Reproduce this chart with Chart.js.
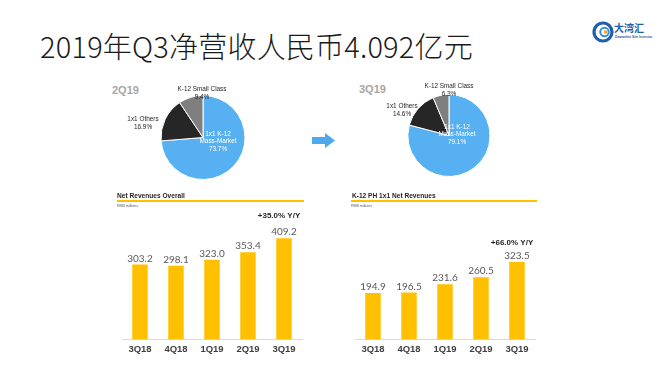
<!DOCTYPE html>
<html>
<head>
<meta charset="utf-8">
<script src="https://cdn.jsdelivr.net/npm/chart.js@4/dist/chart.umd.min.js"></script>
<style>
  html, body { margin: 0; padding: 0; background: #fff; }
  #slide { position: relative; width: 660px; height: 371px; overflow: hidden; background: #fff; font-family: "Liberation Sans", Arial, sans-serif; }
  .abs { position: absolute; }
  #title { left: 40px; top: 24px; font-family: "Noto Sans CJK SC", sans-serif; font-size: 29px; font-weight: 300; color: #1a1a1a; white-space: nowrap; letter-spacing: 0.2px; }
  .qlabel { font-size: 11px; font-weight: bold; color: #a6a6a6; }
  .hdr { font-size: 6.6px; font-weight: bold; color: #262626; white-space: nowrap; }
  .hline { height: 2px; background: #ffc000; }
  .unit { font-size: 3.6px; color: #595959; }
  .logo-txt { font-family: "Noto Sans CJK SC", sans-serif; font-weight: bold; font-size: 10px; color: #1f5fae; }
  .logo-sub { font-size: 3.4px; font-weight: bold; color: #1f5fae; white-space: nowrap; }
</style>
</head>
<body>
<div id="slide">
  <div id="title" class="abs">2019年Q3净营收人民币4.092亿元</div>

  <!-- logo -->
  <svg class="abs" style="left:592px;top:21px" width="22" height="22" viewBox="0 0 22 22">
    <circle cx="11" cy="11" r="9" fill="none" stroke="#1f5fae" stroke-width="3.2" />
    <circle cx="12.5" cy="11" r="4.2" fill="none" stroke="#3a8fd8" stroke-width="2" />
    <circle cx="13.5" cy="11" r="1.8" fill="#f5a623" />
  </svg>
  <div class="abs logo-txt" style="left:614px;top:20px">大湾汇</div>
  <div class="abs logo-sub" style="left:615px;top:35px">Dawanhui Site Investor</div>

  <!-- pies -->
  <div class="abs qlabel" style="left:112px;top:84px">2Q19</div>
  <div class="abs qlabel" style="left:359px;top:83px">3Q19</div>
  <canvas id="pie2" class="abs" style="left:113px;top:80px" width="180" height="115"></canvas>
  <canvas id="pie3" class="abs" style="left:359px;top:78px" width="180" height="115"></canvas>

  <svg class="abs" style="left:311px;top:132px" width="26" height="18" viewBox="0 0 26 18">
    <polygon points="1,5 14,5 14,1 24,8.5 14,16 14,12 1,12" fill="#4ea8ee" />
  </svg>

  <!-- bar headers -->
  <div class="abs hdr" style="left:117px;top:192px">Net Revenues Overall</div>
  <div class="abs hline" style="left:117px;top:200px;width:187px"></div>
  <div class="abs unit" style="left:117px;top:204px">RMB millions</div>

  <div class="abs hdr" style="left:352px;top:192px">K-12 PH 1x1 Net Revenues</div>
  <div class="abs hline" style="left:351px;top:200px;width:186px"></div>
  <div class="abs unit" style="left:351px;top:204px">RMB millions</div>

  <canvas id="barOverall" class="abs" style="left:112px;top:205px" width="200" height="160"></canvas>
  <canvas id="barK12" class="abs" style="left:345px;top:205px" width="200" height="160"></canvas>
</div>

<script>
// ---- data ----
const quarters = ["3Q18", "4Q18", "1Q19", "2Q19", "3Q19"];
const overallRevenue = [303.2, 298.1, 323.0, 353.4, 409.2];
const k12Revenue = [194.9, 196.5, 231.6, 260.5, 323.5];
const overallYoY = "+35.0% Y/Y";
const k12YoY = "+66.0% Y/Y";

const mixLabels = [["1x1 K-12", "Mass-Market"], ["1x1 Others"], ["K-12 Small Class"]];
const mix2Q19 = [73.7, 16.9, 9.4];
const mix3Q19 = [79.1, 14.6, 6.3];
const mixColors = ["#56b0f1", "#262626", "#7f7f7f"];
const mixTextColors = ["#ffffff", "#262626", "#262626"];

// labels on the pie slices, offsets from the pie center
const pieLabelPlugin = {
  id: "pieLabels",
  afterDatasetsDraw(chart, args, opts) {
    const ctx = chart.ctx;
    const arc = chart.getDatasetMeta(0).data[0];
    const values = chart.data.datasets[0].data;
    ctx.save();
    ctx.font = "6.4px 'Liberation Sans', Arial, sans-serif";
    ctx.textAlign = "center";
    ctx.textBaseline = "middle";
    values.forEach((v, i) => {
      const lines = mixLabels[i].concat([v.toFixed(1) + "%"]);
      const off = opts.offsets[i];
      const lh = 7.6;
      const y0 = arc.y + off[1] - (lines.length - 1) * lh / 2;
      ctx.fillStyle = mixTextColors[i];
      lines.forEach((t, k) => ctx.fillText(t, arc.x + off[0], y0 + k * lh));
    });
    ctx.restore();
  }
};

function makePie(id, values, offsets, pad) {
  new Chart(document.getElementById(id), {
    type: "pie",
    data: {
      labels: mixLabels.map(l => l.join(" ")),
      datasets: [{
        data: values,
        backgroundColor: mixColors,
        borderColor: "#ffffff",
        borderWidth: 1
      }]
    },
    options: {
      responsive: false,
      animation: false,
      layout: { padding: { top: pad, bottom: pad } },
      plugins: {
        legend: { display: false },
        tooltip: { enabled: false },
        pieLabels: { offsets: offsets }
      }
    },
    plugins: [pieLabelPlugin]
  });
}

makePie("pie2", mix2Q19, [[15, 4], [-60, -14], [-1, -44]], 15);
makePie("pie3", mix3Q19, [[8, -1], [-47, -25], [0, -45]], 16);

// values above bars + Y/Y note over the last bar
const barLabelPlugin = {
  id: "barLabels",
  afterDatasetsDraw(chart, args, opts) {
    const ctx = chart.ctx;
    const bars = chart.getDatasetMeta(0).data;
    const values = chart.data.datasets[0].data;
    ctx.save();
    ctx.textAlign = "center";
    ctx.textBaseline = "alphabetic";
    ctx.font = "10px Lato, sans-serif";
    ctx.fillStyle = "#595959";
    bars.forEach((b, i) => ctx.fillText(values[i].toFixed(1), b.x, b.y - 3));
    const last = bars[bars.length - 1];
    ctx.font = "bold 8px 'Liberation Sans', Arial, sans-serif";
    ctx.fillStyle = "#262626";
    ctx.fillText(opts.yoy, last.x - 5, last.y - opts.yoyGap);
    ctx.restore();
  }
};

function makeBar(id, values, yMax, yoy, yoyGap) {
  new Chart(document.getElementById(id), {
    type: "bar",
    data: {
      labels: quarters,
      datasets: [{
        data: values,
        backgroundColor: "#ffc000",
        categoryPercentage: 1,
        barPercentage: 0.43
      }]
    },
    options: {
      responsive: false,
      animation: false,
      layout: { padding: { left: 10, right: 10, top: 0, bottom: 6 } },
      scales: {
        x: {
          grid: { display: false, drawTicks: false },
          border: { display: true, color: "#d9d9d9", width: 1 },
          ticks: {
            padding: 4,
            color: "#404040",
            font: { family: "'Liberation Sans', Arial, sans-serif", size: 9.5, weight: "bold" }
          }
        },
        y: {
          display: false,
          min: 0,
          max: yMax
        }
      },
      plugins: {
        legend: { display: false },
        tooltip: { enabled: false },
        barLabels: { yoy: yoy, yoyGap: yoyGap }
      }
    },
    plugins: [barLabelPlugin]
  });
}

makeBar("barOverall", overallRevenue, 544, overallYoY, 20);
makeBar("barK12", k12Revenue, 562, k12YoY, 17);
</script>
</body>
</html>
